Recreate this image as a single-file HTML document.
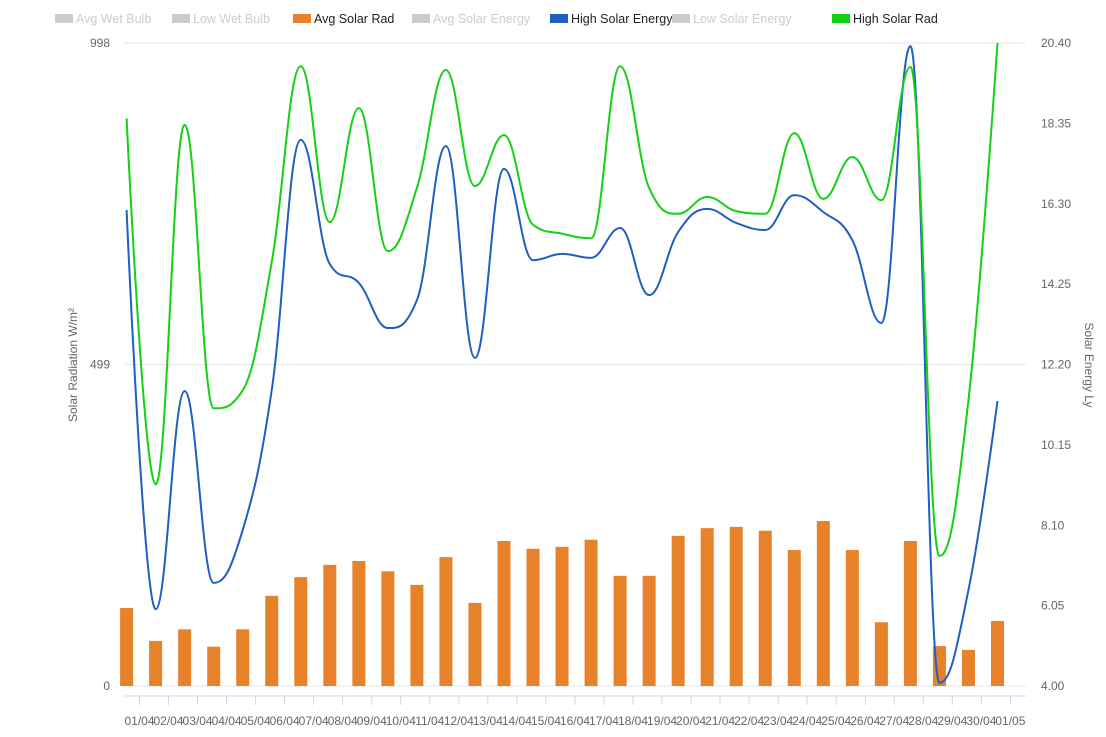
<!DOCTYPE html>
<html><head><meta charset="utf-8"><style>
body{margin:0;background:#fff;font-family:"Liberation Sans",sans-serif}
svg text{font-family:"Liberation Sans",sans-serif}
</style></head><body>
<svg id="c" width="1106" height="732" xmlns="http://www.w3.org/2000/svg"></svg>
<script>
const categories=["01/04","02/04","03/04","04/04","05/04","06/04","07/04","08/04","09/04","10/04","11/04","12/04","13/04","14/04","15/04","16/04","17/04","18/04","19/04","20/04","21/04","22/04","23/04","24/04","25/04","26/04","27/04","28/04","29/04","30/04","01/05"];
const avgSolarRad=[121,70,88,61,88,140,169,188,194,178,157,200,129,225,213,216,227,171,171,233,245,247,241,211,256,211,99,225,62,56,101];
const highSolarRad=[881,313,871,431,459,658,962,720,897,675,773,956,776,855,716,702,695,962,773,733,759,737,733,858,756,821,754,961,202,444,998];
const highSolarEnergy=[16.14,5.96,11.52,6.63,7.98,11.55,17.93,14.76,14.28,13.13,13.84,17.77,12.37,17.19,14.86,15.02,14.92,15.68,13.97,15.58,16.17,15.81,15.63,16.52,16.09,15.37,13.26,20.32,4.08,6.45,11.27];
const leftTicks=[0,499,998];
const rightTicks=["4.00","6.05","8.10","10.15","12.20","14.25","16.30","18.35","20.40"];
const legendItems=[["Avg Wet Bulb","#ccc",55,false],["Low Wet Bulb","#ccc",172,false],["Avg Solar Rad","#e8822a",293,true],["Avg Solar Energy","#ccc",412,false],["High Solar Energy","#1f5fc1",550,true],["Low Solar Energy","#ccc",672,false],["High Solar Rad","#15d115",832,true]];

const svg=document.getElementById('c');const NS="http://www.w3.org/2000/svg";
function el(t,a,txt){const e=document.createElementNS(NS,t);for(const k in a)e.setAttribute(k,a[k]);if(txt!=null)e.textContent=txt;svg.appendChild(e);return e;}
const plotTop=43,plotBot=686,L=125,R=1026,step=29.03;
const yL=v=>plotBot-(v/998)*(plotBot-plotTop);
const yR=v=>plotBot-((v-4)/16.4)*(plotBot-plotTop);
const xP=i=>126.6+step*i;
const xT=i=>139.5+step*i;

leftTicks.forEach(v=>{
 const g=el('line',{x1:L,x2:R,y1:yL(v),y2:yL(v),stroke:'#e6e6e6','stroke-width':1});
 
 const t=el('text',{x:110,y:yL(v)+4,'text-anchor':'end','font-size':12,fill:'#666'},String(v));
 
});
rightTicks.forEach(s=>{
 const t=el('text',{x:1041,y:yR(parseFloat(s))+4,'font-size':12,fill:'#666'},s);
 
});
let ax=el('line',{x1:L,x2:R,y1:696,y2:696,stroke:'#ccd6eb'});

categories.forEach((c,i)=>{
 const tk=el('line',{x1:xT(i),x2:xT(i),y1:696,y2:705,stroke:'#ccd6eb'});
 
 const t=el('text',{x:xT(i),y:725,'text-anchor':'middle','font-size':12,fill:'#666'},c);
 
});
let lt=el('text',{transform:'translate(77,365) rotate(-90)','text-anchor':'middle','font-size':12,fill:'#666'},'Solar Radiation W/m²');

let rt=el('text',{transform:'translate(1085,365) rotate(90)','text-anchor':'middle','font-size':12,fill:'#666'},'Solar Energy Ly');


avgSolarRad.forEach((v,i)=>{
 const b=el('rect',{x:xP(i)-6.5,y:yL(v),width:13,height:plotBot-yL(v),fill:'#e8822a'});
 
});

function spline(pts){
 const s=1.5,d=s+1;let p='M'+pts[0][0]+','+pts[0][1];let prevR=pts[0];
 for(let i=1;i<pts.length;i++){
  const [x,y]=pts[i];let lc=[x,y],rc=[x,y];
  if(i<pts.length-1){
   const [lx,ly]=pts[i-1],[nx,ny]=pts[i+1];
   let lcx=(s*x+lx)/d,lcy=(s*y+ly)/d,rcx=(s*x+nx)/d,rcy=(s*y+ny)/d;
   const corr=((rcy-lcy)*(rcx-x))/(rcx-lcx)+y-rcy;lcy+=corr;rcy+=corr;
   if(lcy>ly&&lcy>y){lcy=Math.max(ly,y);rcy=2*y-lcy;}else if(lcy<ly&&lcy<y){lcy=Math.min(ly,y);rcy=2*y-lcy;}
   if(rcy>ny&&rcy>y){rcy=Math.max(ny,y);lcy=2*y-rcy;}else if(rcy<ny&&rcy<y){rcy=Math.min(ny,y);lcy=2*y-rcy;}
   lc=[lcx,lcy];rc=[rcx,rcy];
  }
  p+=' C'+prevR[0]+','+prevR[1]+' '+lc[0]+','+lc[1]+' '+x+','+y;prevR=rc;
 }
 return p;
}
let bl=el('path',{d:spline(highSolarEnergy.map((v,i)=>[xP(i),yR(v)])),fill:'none',stroke:'#1f5fc1','stroke-width':2});

let gl=el('path',{d:spline(highSolarRad.map((v,i)=>[xP(i),yL(v)])),fill:'none',stroke:'#15d115','stroke-width':2});


legendItems.forEach(([n,c,x,on])=>{
 const r=el('rect',{x:x,y:14,width:18,height:9,fill:c});
 
 const t=el('text',{x:x+21,y:23,'font-size':12.5,fill:on?'#222':'#ccc'},n);
 
});
</script>
</body></html>
